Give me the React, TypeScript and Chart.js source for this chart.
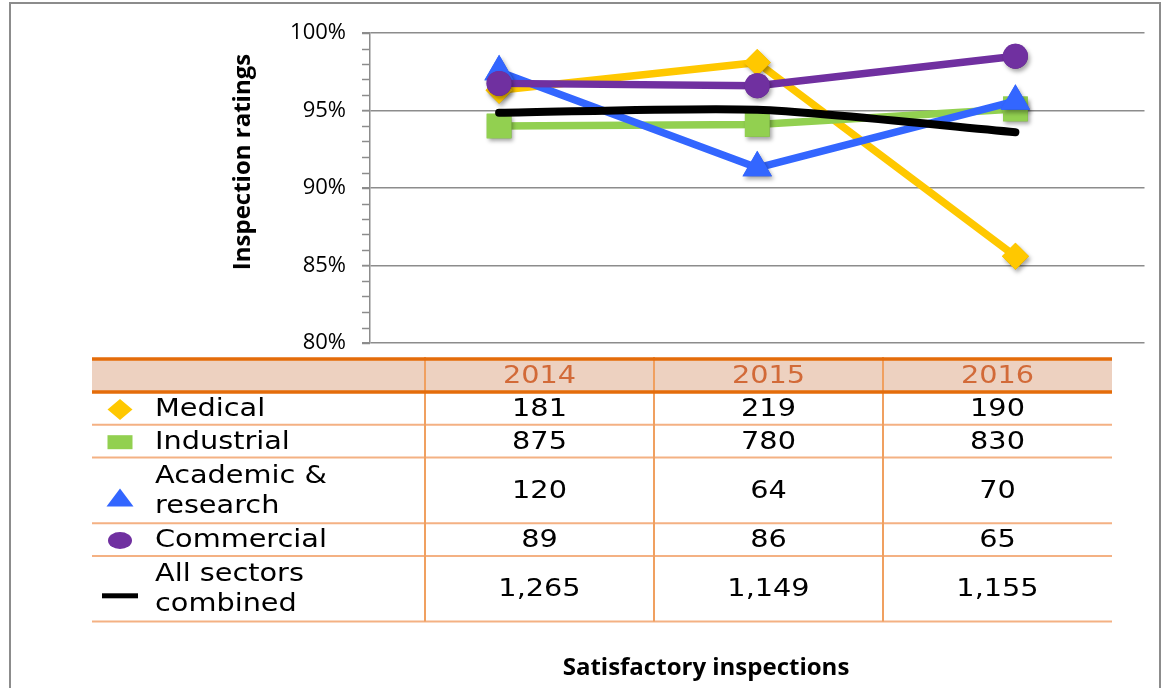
import React, { useEffect, useRef } from 'react';
import { Chart, registerables } from 'chart.js';

Chart.register(...registerables);

// ---- data ----
const years = ['2014', '2015', '2016'];
const seriesLabels = ['Medical', 'Industrial', 'Academic & research', 'Commercial', 'All sectors combined'];
const tableLabelLines = [['Medical'], ['Industrial'], ['Academic &', 'research'], ['Commercial'], ['All sectors', 'combined']];
const medicalRatings = [0.963, 0.981, 0.856];
const industrialRatings = [0.940, 0.941, 0.951];
const academicRatings = [0.975, 0.913, 0.956];
const commercialRatings = [0.9675, 0.966, 0.985];
const allSectorsRatings = [0.9485, 0.9505, 0.936];
const medicalCounts = [181, 219, 190];
const industrialCounts = [875, 780, 830];
const academicCounts = [120, 64, 70];
const commercialCounts = [89, 86, 65];
const allSectorsCounts = [1265, 1149, 1155];
const yAxisMin = 0.8;
const yAxisMax = 1.0;
const yMajorStep = 0.05;
const yMinorStep = 0.01;
const yAxisTitle = 'Inspection ratings';
const xAxisTitle = 'Satisfactory inspections';

// ---- styles ----
const seriesColors = ['#FFC800', '#92D050', '#3366FF', '#7030A0', '#000000'];
const seriesPointStyles: any[] = ['rectRot', 'rect', 'triangle', 'circle', false];
const seriesPointRadius = [13.5, 17.5, 17, 12.5, 0];
const seriesLineWidth = [7.5, 7.5, 7.5, 7.5, 8];
const seriesTension = [0, 0, 0, 0, 0.25];

const ratings = [medicalRatings, industrialRatings, academicRatings, commercialRatings, allSectorsRatings];
const counts = [medicalCounts, industrialCounts, academicCounts, commercialCounts, allSectorsCounts];

const FRAME = '#8c8c8c';
const ORANGE_DARK = '#E46C0A';
const ORANGE_LIGHT = '#F4B183';
const HEADER_FILL = '#EDD1C0';
const HEADER_TEXT = '#D26A38';
const TABLE_FONT = '25px "DejaVu Sans"';
const TABLE_STRETCH = 1.15;
const TITLE_FONT = 'bold 24px "Open Sans"';

function stretchedText(ctx: CanvasRenderingContext2D, text: string, x: number, y: number) {
  ctx.save();
  ctx.translate(x, y);
  ctx.scale(TABLE_STRETCH, 1);
  ctx.fillText(text, 0, 0);
  ctx.restore();
}

function drawLegendKey(ctx: CanvasRenderingContext2D, i: number, x: number, y: number) {
  ctx.fillStyle = seriesColors[i];
  ctx.beginPath();
  if (i === 0) {
    ctx.moveTo(x, y - 10.5);
    ctx.lineTo(x + 12.5, y);
    ctx.lineTo(x, y + 10.5);
    ctx.lineTo(x - 12.5, y);
    ctx.closePath();
    ctx.fill();
  } else if (i === 1) {
    ctx.fillRect(x - 12.5, y - 7, 25, 14);
  } else if (i === 2) {
    ctx.moveTo(x, y - 9);
    ctx.lineTo(x + 13.5, y + 9);
    ctx.lineTo(x - 13.5, y + 9);
    ctx.closePath();
    ctx.fill();
  } else if (i === 3) {
    ctx.ellipse(x, y, 12, 8.5, 0, 0, Math.PI * 2);
    ctx.fill();
  } else {
    ctx.fillRect(x - 18, y - 2.5, 36, 5);
  }
}

const markerShadowPlugin = {
  id: 'markerShadow',
  afterDatasetDraw(chart: any, args: any) {
    const meta = args.meta;
    if (!meta || !meta.data) return;
    const ctx: CanvasRenderingContext2D = chart.ctx;
    ctx.save();
    ctx.shadowColor = 'rgba(0,0,0,0.35)';
    ctx.shadowBlur = 4;
    ctx.shadowOffsetX = 2;
    ctx.shadowOffsetY = 3;
    meta.data.forEach((el: any) => {
      if (el.options && el.options.radius > 0) el.draw(ctx, chart.chartArea);
    });
    ctx.restore();
  },
};

const decorPlugin = {
  id: 'decor',
  afterDraw(chart: any) {
    const ctx: CanvasRenderingContext2D = chart.ctx;
    const yScale = chart.scales.y;
    const area = chart.chartArea;
    ctx.save();

    // minor tick marks on the value axis
    ctx.strokeStyle = FRAME;
    ctx.lineWidth = 1.5;
    const n = Math.round((yAxisMax - yAxisMin) / yMinorStep);
    for (let k = 0; k <= n; k++) {
      const py = Math.round(yScale.getPixelForValue(yAxisMin + k * yMinorStep)) + 0.5;
      ctx.beginPath();
      ctx.moveTo(area.left - 8, py);
      ctx.lineTo(area.left, py);
      ctx.stroke();
    }

    // outer frame
    ctx.strokeStyle = FRAME;
    ctx.lineWidth = 2;
    ctx.strokeRect(10, 3, 1150, 720);

    // axis titles
    ctx.fillStyle = '#000';
    ctx.font = TITLE_FONT;
    ctx.textAlign = 'center';
    ctx.textBaseline = 'middle';
    ctx.save();
    ctx.translate(243, 162);
    ctx.rotate(-Math.PI / 2);
    ctx.fillText(yAxisTitle, 0, 0);
    ctx.restore();
    ctx.fillText(xAxisTitle, 706, 668);

    // data table
    const tableLeft = 92;
    const labelColRight = 425;
    const colWidth = 229;
    const tableRight = labelColRight + colWidth * years.length;
    const headerTop = 359;
    const headerBottom = 392;
    const lineH = 32.8;

    ctx.fillStyle = HEADER_FILL;
    ctx.fillRect(tableLeft, headerTop, tableRight - tableLeft, headerBottom - headerTop);

    ctx.font = TABLE_FONT;
    ctx.fillStyle = HEADER_TEXT;
    years.forEach((yr, c) => {
      stretchedText(ctx, yr, labelColRight + colWidth * (c + 0.5), (headerTop + headerBottom) / 2 + 1);
    });

    let top = headerBottom;
    const rowBottoms: number[] = [];
    tableLabelLines.forEach((lines, r) => {
      const h = lines.length * lineH;
      const cy = top + h / 2;
      ctx.fillStyle = '#000';
      ctx.textAlign = 'left';
      lines.forEach((ln, li) => {
        stretchedText(ctx, ln, 155, cy + (li - (lines.length - 1) / 2) * 30 + 1);
      });
      drawLegendKey(ctx, r, 120, cy + (lines.length > 1 ? 7 : 1));
      ctx.fillStyle = '#000';
      ctx.textAlign = 'center';
      counts[r].forEach((v, c) => {
        stretchedText(ctx, v.toLocaleString('en-US'), labelColRight + colWidth * (c + 0.5), cy + 1);
      });
      top += h;
      rowBottoms.push(top);
    });

    ctx.strokeStyle = ORANGE_LIGHT;
    ctx.lineWidth = 2;
    rowBottoms.forEach((yb) => {
      ctx.beginPath();
      ctx.moveTo(tableLeft, yb);
      ctx.lineTo(tableRight, yb);
      ctx.stroke();
    });
    ctx.strokeStyle = '#F0A060';
    for (let c = 0; c < years.length; c++) {
      const x = labelColRight + colWidth * c;
      ctx.beginPath();
      ctx.moveTo(x, headerTop - 2);
      ctx.lineTo(x, rowBottoms[rowBottoms.length - 1]);
      ctx.stroke();
    }
    ctx.strokeStyle = ORANGE_DARK;
    ctx.lineWidth = 3.5;
    [headerTop, headerBottom].forEach((yy) => {
      ctx.beginPath();
      ctx.moveTo(tableLeft, yy);
      ctx.lineTo(tableRight, yy);
      ctx.stroke();
    });

    ctx.restore();
  },
};

export default function App() {
  const canvasRef = useRef<HTMLCanvasElement | null>(null);

  useEffect(() => {
    const canvas = canvasRef.current;
    if (!canvas) return;
    const datasets = seriesLabels.map((label, i) => ({
      label,
      data: ratings[i],
      borderColor: seriesColors[i],
      backgroundColor: seriesColors[i],
      pointBackgroundColor: seriesColors[i],
      pointBorderColor: seriesColors[i],
      pointBorderWidth: 0,
      pointStyle: seriesPointStyles[i],
      pointRadius: seriesPointRadius[i],
      pointHoverRadius: seriesPointRadius[i],
      borderWidth: seriesLineWidth[i],
      borderCapStyle: 'round' as const,
      borderJoinStyle: 'round' as const,
      tension: seriesTension[i],
      fill: false,
      order: seriesLabels.length - 1 - i,
    }));

    const chart = new Chart(canvas, {
      type: 'line',
      data: { labels: years, datasets },
      options: {
        responsive: false,
        animation: false,
        devicePixelRatio: 1,
        layout: { padding: { left: 0, top: 33, right: 4, bottom: 345 } },
        plugins: {
          legend: { display: false },
          tooltip: { enabled: false },
          title: { display: false },
        },
        scales: {
          x: {
            type: 'category',
            display: false,
            offset: true,
          },
          y: {
            min: yAxisMin,
            max: yAxisMax,
            afterFit: (s: any) => {
              s.width = 370;
            },
            ticks: {
              stepSize: yMajorStep,
              callback: (v: any) => Math.round(Number(v) * 100) + '%',
              font: { family: '"Open Sans"', size: 22 },
              color: '#000',
              padding: 16,
            },
            grid: {
              color: FRAME,
              lineWidth: 1.5,
              tickLength: 8,
              drawTicks: true,
            },
            border: { color: FRAME, width: 1.5 },
          },
        },
      },
      plugins: [markerShadowPlugin, decorPlugin],
    });
    return () => chart.destroy();
  }, []);

  return (
    <div style={{ position: 'fixed', left: 0, top: 0, width: 1162, height: 688, background: '#fff' }}>
      <canvas ref={canvasRef} width={1162} height={688} style={{ display: 'block', width: 1162, height: 688 }} />
    </div>
  );
}
